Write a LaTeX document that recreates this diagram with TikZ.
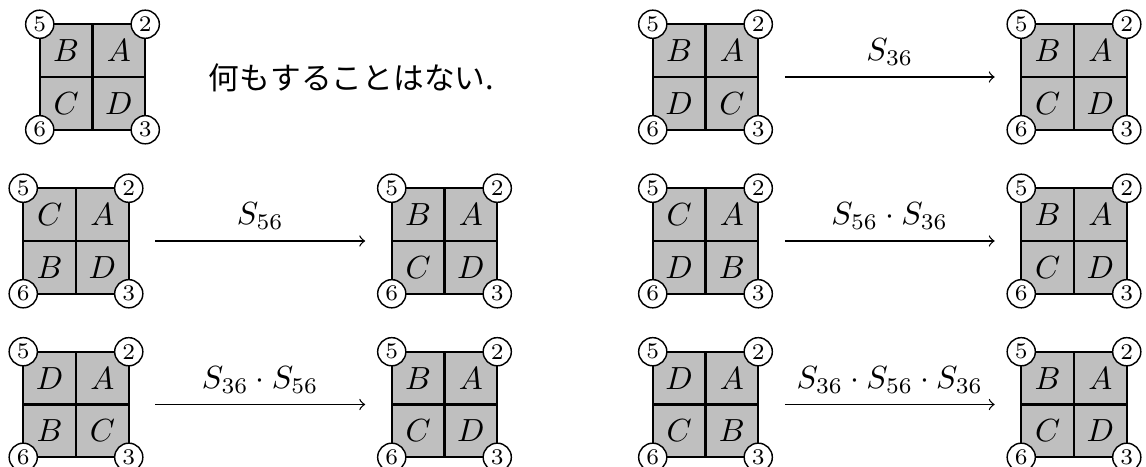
\documentclass[tikz,border=0pt]{standalone}
\usepackage{fontspec}
\newfontfamily\cjk{Noto Sans CJK JP}
\tikzset{
  sq/.style={rectangle, draw, line width=0.7pt, fill=gray!50, minimum width=32.97pt,
    minimum height=32.97pt, inner sep=0pt, outer sep=0pt},
  gridline/.style={line width=0.7pt},
  cn/.style={circle, draw, line width=0.45pt, fill=white, inner sep=0pt,
    minimum size=8.8pt, font=\scriptsize},
  lt/.style={inner sep=0pt},
  arr/.style={->, line width=0.4pt, shorten <=8.3pt, shorten >=8.3pt},
  lab/.style={above, inner sep=3.3pt}
}
% name, x, y, top-left, top-right, bottom-left, bottom-right
\newcommand\sqbox[7]{%
  \node[sq] (#1) at (#2,#3) {};
  \draw[gridline] (#1.north) -- (#1.south) (#1.west) -- (#1.east);
  \node[lt] (#1-tl) at ([shift={(-26.4,-26.4)}]#1.center) {$#4$};
  \node[lt] (#1-tr) at ([shift={(26.4,-26.4)}]#1.center) {$#5$};
  \node[lt] (#1-bl) at ([shift={(-26.4,26.4)}]#1.center) {$#6$};
  \node[lt] (#1-br) at ([shift={(26.4,26.4)}]#1.center) {$#7$};
  \node[cn] (#1-5) at (#1.north west) {5};
  \node[cn] (#1-2) at (#1.north east) {2};
  \node[cn] (#1-6) at (#1.south west) {6};
  \node[cn] (#1-3) at (#1.south east) {3};
}
\begin{document}
\begin{tikzpicture}[x=0.3125pt, y=-0.3125pt]
\useasboundingbox (0,0) rectangle (1146,467);
% row 1
\sqbox{La}{92.5}{77}{B}{A}{C}{D}
\node (txt) at (351.5,78) {\cjk\fontsize{9.6pt}{12pt}\selectfont 何もすることはない.};
\sqbox{Ra}{705.5}{77}{B}{A}{D}{C}
\sqbox{Rb}{1074}{77}{B}{A}{C}{D}
\draw[arr] (Ra) -- (Rb) node[lab, midway] (l1) {$S_{36}$};
% row 2
\sqbox{Lc}{76}{241}{C}{A}{B}{D}
\sqbox{Ld}{444.5}{241}{B}{A}{C}{D}
\draw[arr] (Lc) -- (Ld) node[lab, midway] (l2) {$S_{56}$};
\sqbox{Rc}{705.5}{241}{C}{A}{D}{B}
\sqbox{Rd}{1074}{241}{B}{A}{C}{D}
\draw[arr] (Rc) -- (Rd) node[lab, midway] (l3) {$S_{56}\cdot S_{36}$};
% row 3
\sqbox{Le}{76}{404.5}{D}{A}{B}{C}
\sqbox{Lf}{444.5}{404.5}{B}{A}{C}{D}
\draw[arr] (Le) -- (Lf) node[lab, midway] (l4) {$S_{36}\cdot S_{56}$};
\sqbox{Re}{705.5}{404.5}{D}{A}{C}{B}
\sqbox{Rf}{1074}{404.5}{B}{A}{C}{D}
\draw[arr] (Re) -- (Rf) node[lab, midway] (l5) {$S_{36}\cdot S_{56}\cdot S_{36}$};
\end{tikzpicture}
\end{document}
